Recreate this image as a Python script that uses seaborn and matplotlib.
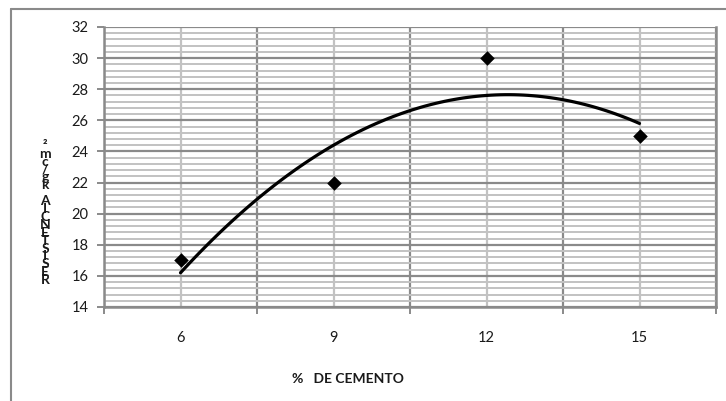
import matplotlib
matplotlib.use("Agg")
import matplotlib.pyplot as plt
import seaborn as sns
import numpy as np
import pandas as pd
from matplotlib.lines import Line2D
from matplotlib.ticker import MultipleLocator, FixedLocator, NullFormatter

# ---- data ----
categories = ["6", "9", "12", "15"]
resistencia = [17, 22, 30, 25]
y_ticks = [14, 16, 18, 20, 22, 24, 26, 28, 30, 32]
x_label = "%   DE CEMENTO"
y_label = "RESISTENCIA kg/cm²"

sns.set_theme(style="white")
plt.rcParams['font.family'] = ['Lato', 'DejaVu Sans']

W, H = 726, 401
fig = plt.figure(figsize=(W / 100, H / 100), dpi=100)
ax = fig.add_axes([104 / W, 1 - 307 / H, (716 - 104) / W, (307 - 27) / H])

pos = np.arange(len(categories))
df = pd.DataFrame({"pos": pos, "res": resistencia})

DARK = "#8a8a8a"
LIGHT = "#c2c2c2"

# trend line (2nd-order polynomial) and points
sns.regplot(data=df, x="pos", y="res", order=2, ci=None, scatter=False,
            truncate=True, ax=ax, line_kws=dict(color="black", lw=2.3, zorder=4))
sns.scatterplot(data=df, x="pos", y="res", marker="D", s=55, color="black",
                edgecolor="black", linewidth=0, ax=ax, zorder=5)

ax.set_xlim(-0.5, len(categories) - 0.5)
ax.set_ylim(y_ticks[0], y_ticks[-1])

# y axis
ax.yaxis.set_major_locator(FixedLocator(y_ticks))
ax.yaxis.set_minor_locator(MultipleLocator(0.4))
ax.set_yticklabels([str(v) for v in y_ticks])
ax.grid(which="minor", axis="y", color=LIGHT, lw=1.4, zorder=0)
ax.grid(which="major", axis="y", color=DARK, lw=1.6, zorder=1)

# x axis: boundaries as major (dark grid + tick marks), categories as minor (labels + light grid)
bounds = np.arange(len(categories) + 1) - 0.5
ax.xaxis.set_major_locator(FixedLocator(bounds))
ax.xaxis.set_major_formatter(NullFormatter())
ax.xaxis.set_minor_locator(FixedLocator(pos))
ax.set_xticklabels(categories, minor=True)
ax.grid(which="minor", axis="x", color=LIGHT, lw=1.6, zorder=0)
ax.grid(which="major", axis="x", color=DARK, lw=1.6, zorder=1)
ax.set_axisbelow(True)

ax.tick_params(axis="x", which="major", length=5, width=1.4, color=DARK, direction="out", bottom=True)
ax.tick_params(axis="x", which="minor", length=0, pad=17, labelsize=10.5, labelcolor="#1a1a1a")
ax.tick_params(axis="y", which="major", length=5, width=1.4, color=DARK, direction="out", left=True,
               pad=6, labelsize=10.5, labelcolor="#1a1a1a")
ax.tick_params(axis="y", which="minor", length=0)

for side in ["left", "bottom", "right"]:
    ax.spines[side].set_visible(True)
    ax.spines[side].set_color(DARK)
    ax.spines[side].set_linewidth(1.8)
ax.spines["top"].set_visible(False)

ax.set_xlabel("")
ax.set_ylabel("")

# axis titles
fig.text(348 / W, 1 - 379 / H, x_label, ha="center", va="center",
         fontsize=10, fontweight="bold", color="#1a1a1a")
fig.text(45 / W, 1 - 213 / H, "\n".join(reversed(y_label)), ha="center", va="center",
         fontsize=10, fontweight="bold", color="#1a1a1a", linespacing=0.59)

# chart area border
fig.add_artist(Line2D([10.5 / W, 10.5 / W], [0, 1 - 8.5 / H], transform=fig.transFigure,
                      color=DARK, lw=1.5))
fig.add_artist(Line2D([10.5 / W, 1], [1 - 8.5 / H, 1 - 8.5 / H], transform=fig.transFigure,
                      color=DARK, lw=1.5))

fig.savefig("out.png", dpi=100)
